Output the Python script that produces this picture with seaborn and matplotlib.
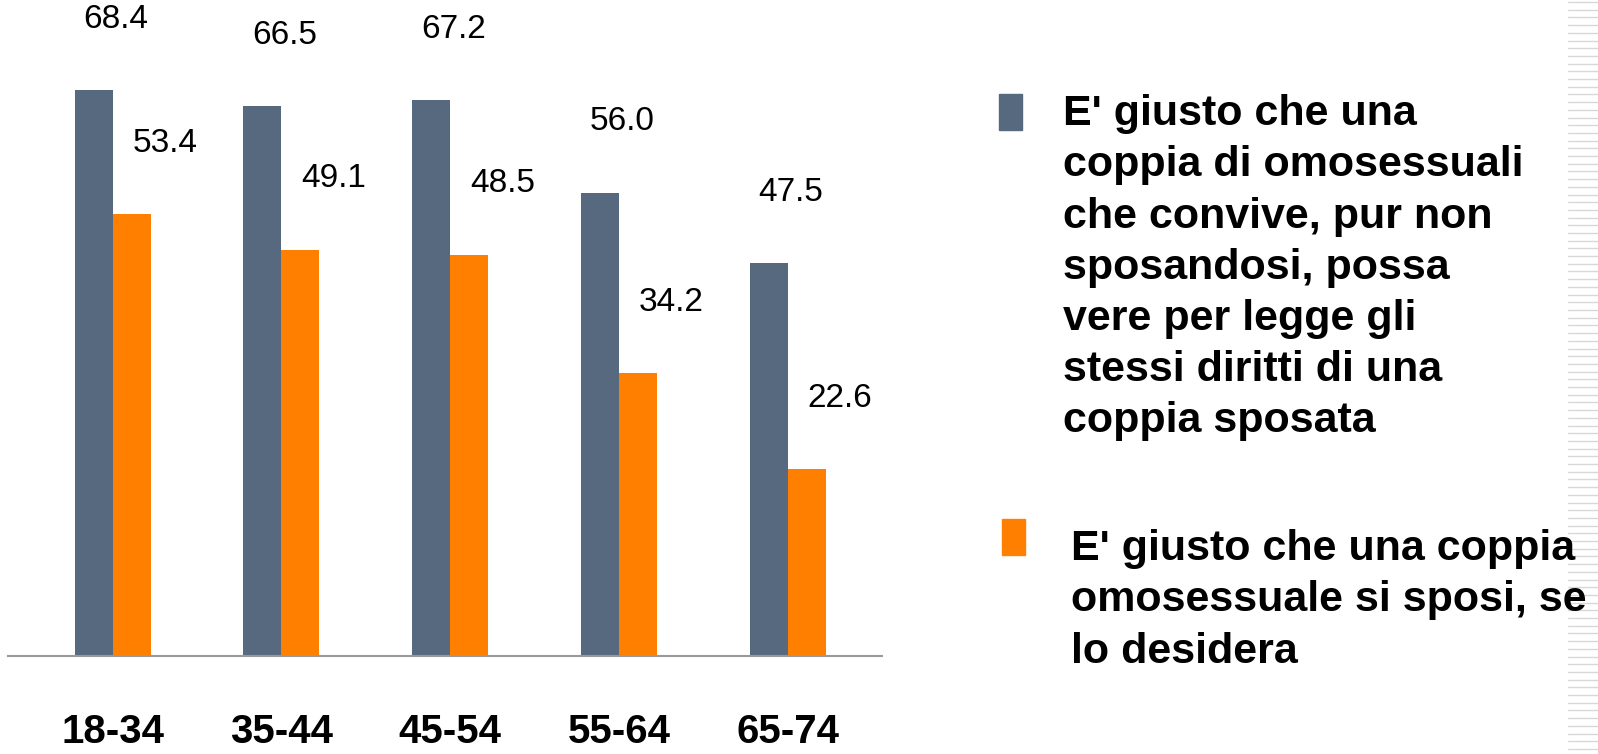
import matplotlib
matplotlib.use('Agg')
import matplotlib.pyplot as plt
from matplotlib.patches import Rectangle
import seaborn as sns
import pandas as pd

# Data
age_groups = ['18-34', '35-44', '45-54', '55-64', '65-74']
convivenza = [68.4, 66.5, 67.2, 56.0, 47.5]
matrimonio = [53.4, 49.1, 48.5, 34.2, 22.6]
series_names = ['convivenza', 'matrimonio']
legend_texts = [
    "E' giusto che una\ncoppia di omosessuali\nche convive, pur non\nsposandosi, possa\n"
    "vere per legge gli\nstessi diritti di una\ncoppia sposata",
    "E' giusto che una coppia\nomosessuale si sposi, se\nlo desidera",
]
colors = ['#56697F', '#FF8000']

df = pd.DataFrame({
    'eta': age_groups * 2,
    'valore': convivenza + matrimonio,
    'serie': [series_names[0]] * 5 + [series_names[1]] * 5,
})

sns.set_style('white')
plt.rcParams['font.family'] = ['Liberation Sans', 'DejaVu Sans']
plt.rcParams['text.color'] = 'black'
plt.rcParams['xtick.color'] = 'black'

fig = plt.figure(figsize=(15.98, 7.54), dpi=100)
ax = fig.add_axes([0.005, 0.13, 0.547, 0.87])

sns.barplot(data=df, x='eta', y='valore', hue='serie', palette=colors,
            width=0.45, gap=0, saturation=1, legend=False, linewidth=0, ax=ax)

ax.set_xlim(-0.62, 4.56)
ax.set_ylim(0, 79.3)
ax.set_xlabel('')
ax.set_ylabel('')
ax.set_yticks([])
for s in ['top', 'right', 'left']:
    ax.spines[s].set_visible(False)
ax.spines['bottom'].set_color('#999999')
ax.spines['bottom'].set_linewidth(1.5)
ax.tick_params(axis='x', length=0, pad=41, labelcolor='black')
for lab in ax.get_xticklabels():
    lab.set_fontsize(29)
    lab.set_fontweight('bold')

# value labels, offset up and to the right like the original
for container, dx in zip(ax.containers, [16, 24]):
    for bar in container:
        h = bar.get_height()
        ax.annotate(f'{h:.1f}', (bar.get_x() + bar.get_width() / 2, h),
                    xytext=(dx, 51), textcoords='offset points',
                    ha='center', va='center', fontsize=24, color='black')

# legend drawn by hand
legend_pos = [(0.625, 0.851, 0.665), (0.627, 0.288, 0.670)]
text_top = [0.875, 0.298]
for (mx, ty, tx), tt, col, txt in zip(legend_pos, text_top, colors, legend_texts):
    fig.add_artist(Rectangle((mx, ty - 0.024), 0.0145, 0.048,
                             transform=fig.transFigure, color=col))
    fig.text(tx, tt, txt, fontsize=31, fontweight='bold', color='black',
             va='top', ha='left', linespacing=1.36)

# striped decoration at right edge
for i in range(99):
    y = 1 - (2 + i * 7.7) / 754
    fig.add_artist(plt.Line2D([0.981, 1.0], [y, y], transform=fig.transFigure,
                              color='#d8d8d8', lw=1))

fig.savefig('out.png', dpi=100)
